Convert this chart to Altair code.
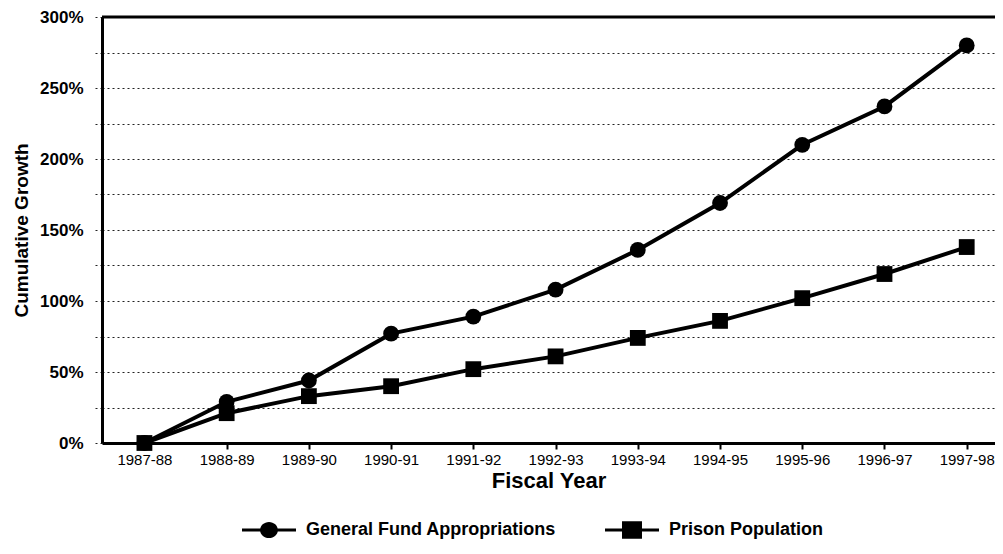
import altair as alt
import pandas as pd

years = ["1987-88", "1988-89", "1989-90", "1990-91", "1991-92", "1992-93",
         "1993-94", "1994-95", "1995-96", "1996-97", "1997-98"]
general_fund = [0, 29, 44, 77, 89, 108, 136, 169, 210, 237, 280]
prison_pop = [0, 21, 33, 40, 52, 61, 74, 86, 102, 119, 138]
series_names = ["General Fund Appropriations", "Prison Population"]
y_ticks = list(range(0, 301, 25))
y_max = 300

rows = []
for i, yr in enumerate(years):
    rows.append({"year": yr, "series": series_names[0], "value": general_fund[i]})
    rows.append({"year": yr, "series": series_names[1], "value": prison_pop[i]})
df = pd.DataFrame(rows)

FONT = "Liberation Sans"

x_enc = alt.X(
    "year:O", sort=years,
    scale=alt.Scale(type="point", padding=0.43, align=0.6),
    axis=alt.Axis(
        title="Fiscal Year", labelAngle=0, grid=False,
        labelFont=FONT, labelFontSize=15,
        labelColor="black", labelPadding=3,
        tickColor="black", tickWidth=2, tickSize=6,
        domainColor="black", domainWidth=3,
        titleFont=FONT, titleFontSize=22, titleFontWeight="bold",
        titleColor="black", titlePadding=3,
    ),
)
y_axis = alt.Axis(
    title="Cumulative Growth", values=y_ticks,
    labelExpr="datum.value % 50 == 0 ? datum.value + '%' : ''",
    labelFont=FONT, labelFontSize=17, labelFontWeight="bold",
    labelColor="black", labelPadding=10,
    grid=True, gridDash=[2, 3], gridColor="#222", gridWidth=1,
    tickSize=9, tickDash=[2, 3], tickColor="#222", tickWidth=1,
    domainColor="black", domainWidth=3,
    titleFont=FONT, titleFontSize=19, titleFontWeight="bold",
    titleColor="black", titlePadding=8,
)
y_scale = alt.Scale(domain=[0, y_max], nice=False)
y_enc = alt.Y("value:Q", scale=y_scale, axis=y_axis)

base = alt.Chart(df)

lines = base.mark_line(color="black", strokeWidth=4).encode(
    x=x_enc, y=y_enc, detail="series:N"
)

points = base.mark_point(filled=True, color="black", opacity=1, size=250).encode(
    x=x_enc, y=y_enc,
    shape=alt.Shape("series:N",
                    scale=alt.Scale(domain=series_names, range=["circle", "square"]),
                    legend=None),
)

legend_paths = [
    "M-1,-0.06H1V0.06H-1Z"
    "M-0.33,0A0.33,0.3,0,1,1,0.33,0A0.33,0.3,0,1,1,-0.33,0Z",
    "M-1,-0.06H1V0.06H-1Z"
    "M-0.37,-0.32H0.37V0.32H-0.37Z",
]
legend_layer = base.transform_filter("false").mark_point(
    filled=True, color="black", opacity=1, size=2916
).encode(
    x=x_enc, y=y_enc,
    shape=alt.Shape(
        "series:N",
        scale=alt.Scale(domain=series_names, range=legend_paths),
        legend=alt.Legend(
            title=None, orient="none", direction="horizontal",
            legendX=140, legendY=486,
            labelFont=FONT, labelFontSize=18, labelFontWeight="bold",
            labelColor="black", labelOffset=10, columnPadding=48,
            symbolSize=2916, symbolFillColor="black",
            symbolStrokeWidth=0, symbolOpacity=1, labelLimit=400,
        ),
    ),
)

top_df = pd.DataFrame({"value": [y_max]})
top_rule = alt.Chart(top_df).mark_rule(color="black", strokeWidth=3).encode(
    y=y_enc
)

chart = alt.layer(lines, points, legend_layer, top_rule).resolve_scale(
    shape="independent"
).properties(
    width=893, height=426,
    autosize=alt.AutoSizeParams(type="none"),
    padding={"left": 94, "top": 9, "right": 0, "bottom": 96},
).configure_view(stroke=None).configure(background="white")

chart.save("out.html", embed_options={"renderer": "svg", "actions": False})
